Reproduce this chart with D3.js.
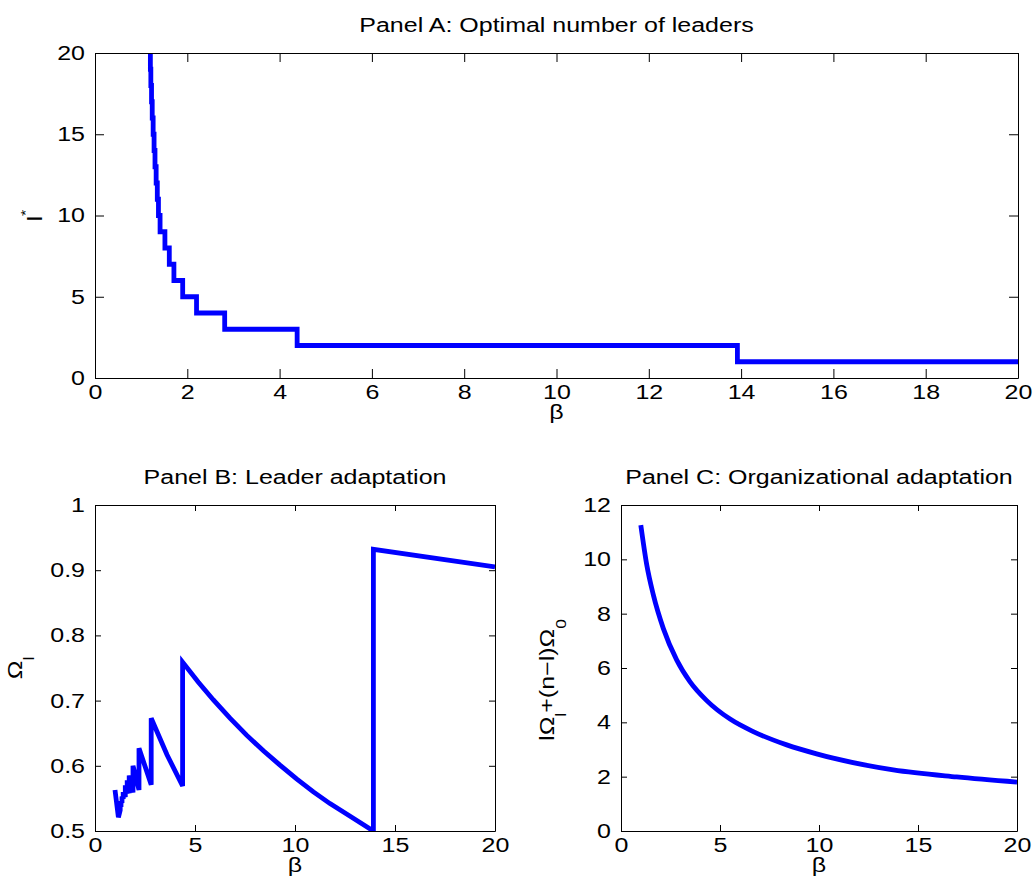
<!DOCTYPE html>
<html>
<head>
<meta charset="utf-8">
<script src="https://cdn.jsdelivr.net/npm/d3@7"></script>
<style>
  body { margin: 0; background: #fff; }
  svg { display: block; }
  text { font-family: "Liberation Sans", Arial, Helvetica, sans-serif; fill: #000; }
</style>
</head>
<body>
<svg id="chart" width="1035" height="895"></svg>
<script>
// ---------------- Data ----------------
// Panel A: optimal number of leaders l* (step function of beta)
const lStar = [20, 19, 18, 17, 16, 15, 14, 13, 12, 11, 10, 9, 8, 7, 6, 5, 4, 3, 2, 1];
const betaA = [1.19, 1.20, 1.21, 1.225, 1.24, 1.26, 1.28, 1.30, 1.325, 1.35, 1.375, 1.41, 1.515, 1.61, 1.71, 1.90, 2.20, 2.81, 4.38, 13.92];
const betaAEnd = 20;

// Panel B: leader adaptation Omega_l
const betaB  = [1.00, 1.17, 1.26, 1.26, 1.30, 1.30, 1.35, 1.35, 1.41, 1.41, 1.515, 1.515, 1.61, 1.61, 1.71, 1.71, 1.90, 1.90, 2.20, 2.20, 2.81, 2.81, 3.60, 4.38, 4.38, 5.17, 5.92, 6.75, 7.58, 8.42, 9.25, 10.08, 10.92, 11.75, 12.58, 13.25, 13.92, 13.92, 20.0];
const omegaB = [0.563, 0.521, 0.532, 0.540, 0.537, 0.546, 0.543, 0.553, 0.549, 0.560, 0.552, 0.570, 0.557, 0.578, 0.558, 0.585, 0.559, 0.600, 0.563, 0.627, 0.571, 0.673, 0.617, 0.569, 0.759, 0.728, 0.701, 0.673, 0.647, 0.623, 0.601, 0.580, 0.560, 0.542, 0.526, 0.513, 0.500, 0.932, 0.905];

// Panel C: organizational adaptation l*Omega_l + (n-l)*Omega_0
const betaC  = [1.0, 1.30, 1.63, 2.14, 2.81, 3.48, 4.33, 5.51, 6.68, 8.37, 9.88, 10.72, 13.75, 16.95, 20.0];
const omegaC = [11.26, 9.80, 8.70, 7.45, 6.30, 5.50, 4.80, 4.12, 3.66, 3.17, 2.84, 2.68, 2.25, 1.99, 1.80];

// Tick values
const ticksAx = [0, 2, 4, 6, 8, 10, 12, 14, 16, 18, 20];
const ticksAy = [0, 5, 10, 15, 20];
const ticksBx = [0, 5, 10, 15, 20];
const ticksBy = [0.5, 0.6, 0.7, 0.8, 0.9, 1];
const ticksCx = [0, 5, 10, 15, 20];
const ticksCy = [0, 2, 4, 6, 8, 10, 12];

const titles = ["Panel A: Optimal number of leaders", "Panel B: Leader adaptation", "Panel C: Organizational adaptation"];

// ---------------- Drawing ----------------
const svg = d3.select("#chart");
const FS = 20;      // font size
const SX = 1.25;    // horizontal stretch of the (wide) original font

function stretchAxisText(sel) {
  sel.selectAll(".tick text").each(function () {
    const t = d3.select(this);
    const x0 = +t.attr("x") || 0;
    t.attr("transform", `translate(${x0},0) scale(${SX},1) translate(${-x0},0)`);
  });
}

function panel(cfg) {
  const x = d3.scaleLinear().domain(cfg.xdom).range([cfg.left, cfg.right]);
  const y = d3.scaleLinear().domain(cfg.ydom).range([cfg.bottom, cfg.top]);
  const g = svg.append("g");
  const id = "clip" + cfg.name;
  svg.append("clipPath").attr("id", id).append("rect")
    .attr("x", cfg.left).attr("y", cfg.top)
    .attr("width", cfg.right - cfg.left).attr("height", cfg.bottom - cfg.top);

  // data line
  const line = d3.line().x(d => x(d[0])).y(d => y(d[1]));
  if (cfg.curve) line.curve(cfg.curve);
  g.append("path").datum(cfg.data)
    .attr("clip-path", `url(#${id})`)
    .attr("d", line)
    .attr("fill", "none").attr("stroke", "#0000ff").attr("stroke-width", 4.8)
    .attr("stroke-linejoin", "miter");

  const tl = cfg.tick;
  const bottom = d3.axisBottom(x).tickValues(cfg.xt).tickSizeInner(-tl).tickSizeOuter(0).tickPadding(7).tickFormat(d => d);
  const top = d3.axisTop(x).tickValues(cfg.xt).tickSizeInner(-tl).tickSizeOuter(0).tickFormat("");
  const left = d3.axisLeft(y).tickValues(cfg.yt).tickSizeInner(-tl).tickSizeOuter(0).tickPadding(10).tickFormat(cfg.yfmt || (d => d));
  const right = d3.axisRight(y).tickValues(cfg.yt).tickSizeInner(-tl).tickSizeOuter(0).tickFormat("");

  const styleAxis = sel => {
    sel.attr("font-size", FS).attr("font-family", '"Liberation Sans", Arial, sans-serif');
    sel.selectAll("path").attr("stroke", "#000").attr("stroke-width", 1);
    sel.selectAll("line").attr("stroke", "#000").attr("stroke-width", 1);
    sel.selectAll("text").attr("fill", "#000");
    stretchAxisText(sel);
  };
  g.append("g").attr("transform", `translate(0,${cfg.bottom})`).call(bottom).call(styleAxis);
  g.append("g").attr("transform", `translate(0,${cfg.top})`).call(top).call(styleAxis);
  g.append("g").attr("transform", `translate(${cfg.left},0)`).call(left).call(styleAxis);
  g.append("g").attr("transform", `translate(${cfg.right},0)`).call(right).call(styleAxis);

  // title
  g.append("text")
    .attr("transform", `translate(${(cfg.left + cfg.right) / 2},${cfg.top - 21}) scale(${SX},1)`)
    .attr("text-anchor", "middle").attr("font-size", FS).text(cfg.title);
  // x label
  g.append("text")
    .attr("transform", `translate(${(cfg.left + cfg.right) / 2},${cfg.bottom + 41}) scale(${SX},1)`)
    .attr("text-anchor", "middle").attr("font-size", FS).text("β");
  // y label
  const yl = g.append("text")
    .attr("transform", `translate(${cfg.ylx},${(cfg.top + cfg.bottom) / 2 + (cfg.yloff || 0)}) rotate(-90) scale(${SX},1)`)
    .attr("text-anchor", "middle").attr("font-size", FS);
  cfg.ylabel.forEach(p => {
    const t = yl.append("tspan").text(p.t);
    if (p.dy) t.attr("dy", p.dy);
    if (p.fs) t.attr("font-size", p.fs);
  });
}

// Panel A
const dataA = lStar.map((l, i) => [betaA[i], l]);
dataA.push([betaAEnd, lStar[lStar.length - 1]]);
panel({
  name: "A", left: 95, right: 1018, top: 53, bottom: 378,
  xdom: [0, 20], ydom: [0, 20], xt: ticksAx, yt: ticksAy, tick: 9,
  data: dataA, curve: d3.curveStepAfter, title: titles[0], ylx: 42,
  ylabel: [{t: "l"}, {t: "*", dy: -12, fs: 13}]
});

// Panel B
panel({
  name: "B", left: 95, right: 495, top: 505, bottom: 831,
  xdom: [0, 20], ydom: [0.5, 1], xt: ticksBx, yt: ticksBy, tick: 6,
  yfmt: d => (d === 1 ? "1" : d3.format(".1f")(d)),
  data: betaB.map((b, i) => [b, omegaB[i]]), title: titles[1], ylx: 22,
  ylabel: [{t: "Ω"}, {t: "l", dy: 12, fs: 14}]
});

// Panel C
panel({
  name: "C", left: 621, right: 1017, top: 505, bottom: 831,
  xdom: [0, 20], ydom: [0, 12], xt: ticksCx, yt: ticksCy, tick: 6,
  data: betaC.map((b, i) => [b, omegaC[i]]), curve: d3.curveMonotoneX, title: titles[2], ylx: 554, yloff: 12,
  ylabel: [{t: "lΩ"}, {t: "l", dy: 12, fs: 14}, {t: "+(n−l)Ω", dy: -12}, {t: "0", dy: 12, fs: 14}]
});
</script>
</body>
</html>
